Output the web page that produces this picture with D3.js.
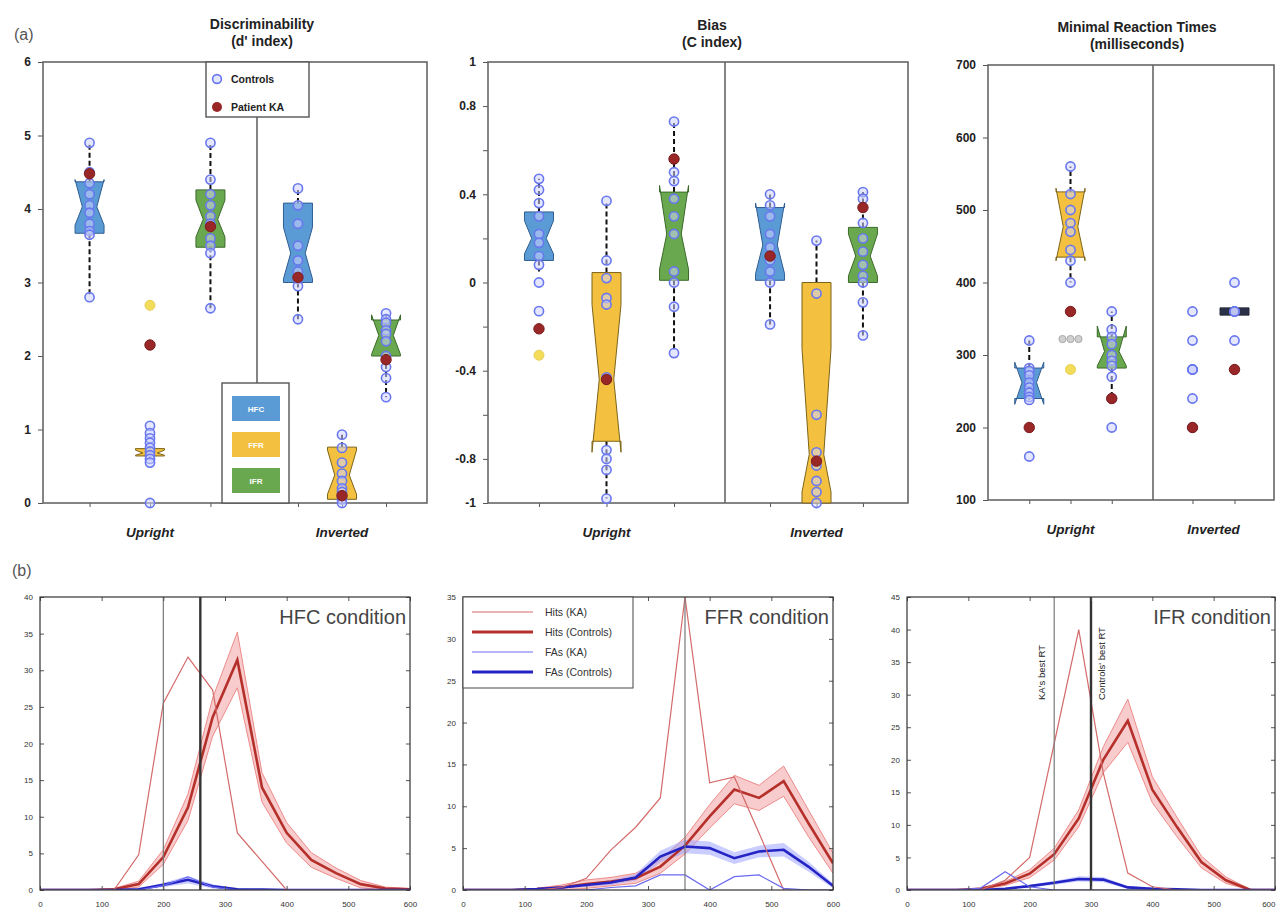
<!DOCTYPE html>
<html><head><meta charset="utf-8">
<script src="https://cdn.jsdelivr.net/npm/d3@7"></script>
<style>body{margin:0;background:#fff}svg{display:block}</style>
</head><body><svg id="c" width="1280" height="908"></svg>
<script>
// ---------- categories ----------
const conditions = ["HFC", "FFR", "IFR"];
const rtInvConditions = ["HFC", "FFR"];
const orientations = ["Upright", "Inverted"];
const legendKeys = ["Controls", "Patient KA"];
const distKeys = ["Hits (KA)", "Hits (Controls)", "FAs (KA)", "FAs (Controls)"];

// ---------- (a) discriminability d' ----------
const dTicks = [0, 1, 2, 3, 4, 5, 6];
const dLabels = [0, 1, 2, 3, 4, 5, 6];
const dControls = [
  [4.9, 4.5, 4.35, 4.2, 4.05, 3.95, 3.8, 3.7, 3.65, 2.8],
  [1.05, 0.95, 0.88, 0.82, 0.75, 0.7, 0.65, 0.6, 0.55, 0.0],
  [4.9, 4.4, 4.2, 4.05, 3.9, 3.8, 3.6, 3.5, 3.4, 2.65],
  [4.28, 4.05, 3.8, 3.5, 3.3, 3.15, 3.05, 2.95, 2.5],
  [0.93, 0.75, 0.55, 0.4, 0.3, 0.2, 0.15, 0.1, 0.05, 0.0],
  [2.58, 2.5, 2.45, 2.35, 2.3, 2.2, 2.0, 1.85, 1.7, 1.44]
];
const dKA = [4.48, 2.15, 3.76, 3.07, 0.1, 1.95];
const dExtra = [null, 2.69, null, null, null, null];
// [whiskerLo, q1, notchLo, median, notchHi, q3, whiskerHi]
const dBoxes = [
  [2.8, 3.67, 3.78, 4.03, 4.4, 4.37, 4.9],
  [0.62, 0.64, 0.65, 0.68, 0.72, 0.74, 0.78],
  [2.65, 3.48, 3.62, 3.86, 4.12, 4.26, 4.9],
  [2.5, 3.0, 3.05, 3.4, 3.75, 4.08, 4.28],
  [0.0, 0.05, 0.12, 0.38, 0.72, 0.76, 0.93],
  [1.44, 2.0, 2.02, 2.28, 2.56, 2.49, 2.58]
];

// ---------- (a) bias C ----------
const cTicks = [1, 0.8, 0.6, 0.4, 0.2, 0, -0.2, -0.4, -0.6, -0.8, -1];
const cLabels = [1, 0.8, 0.4, 0, -0.4, -0.8, -1];
const cControls = [
  [0.47, 0.42, 0.36, 0.3, 0.22, 0.18, 0.12, 0.08, 0.0, -0.13],
  [0.37, 0.1, 0.02, -0.07, -0.1, -0.43, -0.76, -0.8, -0.85, -0.98],
  [0.73, 0.5, 0.46, 0.38, 0.3, 0.22, 0.05, 0.0, -0.11, -0.32],
  [0.4, 0.35, 0.3, 0.22, 0.16, 0.1, 0.05, 0.0, -0.19],
  [0.19, -0.05, -0.6, -0.77, -0.83, -0.9, -0.95, -1.0],
  [0.41, 0.38, 0.27, 0.2, 0.14, 0.08, 0.03, 0.0, -0.09, -0.24]
];
const cKA = [-0.21, -0.44, 0.56, 0.12, -0.81, 0.34];
const cExtra = [-0.33, null, null, null, null, null];
const cBoxes = [
  [0.05, 0.1, 0.13, 0.2, 0.28, 0.32, 0.47],
  [-0.98, -0.72, -0.77, -0.44, -0.1, 0.045, 0.37],
  [-0.31, 0.01, 0.06, 0.22, 0.44, 0.41, 0.73],
  [-0.19, 0.01, 0.04, 0.17, 0.36, 0.34, 0.4],
  [-1.0, -1.0, -0.95, -0.78, -0.3, 0.0, 0.19],
  [-0.24, 0.0, 0.03, 0.12, 0.22, 0.25, 0.41]
];

// ---------- (a) minimal reaction times ----------
const rtTicks = [100, 200, 300, 400, 500, 600, 700];
const rtLabels = [100, 200, 300, 400, 500, 600, 700];
const rtControls = [
  [320, 282, 278, 272, 262, 255, 248, 242, 238, 160],
  [560, 522, 500, 482, 470, 445, 430, 400],
  [360, 335, 325, 315, 300, 292, 285, 270, 240, 200],
  [360, 320, 280, 280, 280, 240, 200],
  [400, 360, 360, 360, 320]
];
const rtKA = [200, 360, 240, 200, 280];
const rtExtra = [null, 280, null, null, null];
const rtGray = [null, 322, null, null, null];
const rtBoxes = [
  [238, 240, 232, 262, 290, 282, 320],
  [400, 435, 430, 477, 530, 525, 560],
  [240, 282, 285, 305, 340, 325, 360],
  null,
  [360, 355, 355, 360, 365, 365, 360]
];

// ---------- (b) RT distributions ----------
const rtBins = [0, 40, 80, 120, 160, 200, 240, 280, 320, 360, 400, 440, 480, 520, 560, 600];
const distXTicks = [0, 100, 200, 300, 400, 500, 600];

const hfcTicks = [0, 5, 10, 15, 20, 25, 30, 35, 40];
const hfcHitsKA  = [0, 0, 0, 0, 4.8, 25.5, 31.8, 27.3, 7.8, 3.9, 0, 0, 0, 0, 0, 0];
const hfcHitsCtl = [0, 0, 0, 0.1, 0.8, 4.5, 11.3, 23.6, 31.4, 14, 7.8, 4.1, 2.3, 0.8, 0.2, 0.1];
const hfcHitsSE  = [0, 0, 0, 0.1, 0.4, 1, 1.8, 2.6, 3.8, 2, 1.4, 1, 0.7, 0.5, 0.2, 0.1];
const hfcFaKA    = [0, 0, 0, 0, 0, 0.6, 1.8, 0.4, 0, 0, 0, 0, 0, 0, 0, 0];
const hfcFaCtl   = [0, 0, 0, 0, 0.1, 0.7, 1.4, 0.5, 0.1, 0.05, 0, 0, 0, 0, 0, 0];
const hfcFaSE    = [0, 0, 0, 0, 0.05, 0.3, 0.5, 0.3, 0.1, 0, 0, 0, 0, 0, 0, 0];

const ffrTicks = [0, 5, 10, 15, 20, 25, 30, 35];
const ffrHitsKA  = [0, 0, 0, 0, 0.3, 1.4, 4.8, 7.5, 11, 35, 12.8, 13.5, 6.8, 0, 0, 0];
const ffrHitsCtl = [0, 0, 0, 0.1, 0.3, 0.7, 1, 1.4, 2.8, 5.3, 8.8, 12, 11, 13, 8, 3.2];
const ffrHitsSE  = [0, 0, 0, 0.1, 0.3, 0.5, 0.5, 0.6, 0.8, 1, 1.4, 1.7, 1.5, 1.8, 1.6, 1.2];
const ffrFaKA    = [0, 0, 0, 0, 0, 0, 0.3, 0.5, 1.8, 1.8, 0, 1.6, 1.8, 0.2, 0, 0];
const ffrFaCtl   = [0, 0, 0, 0.1, 0.3, 0.6, 0.9, 1.5, 4, 5.2, 5, 3.8, 4.6, 4.8, 2.8, 0.5];
const ffrFaSE    = [0, 0, 0, 0.05, 0.1, 0.2, 0.3, 0.4, 0.7, 0.8, 0.8, 0.7, 0.7, 0.8, 0.6, 0.3];

const ifrTicks = [0, 5, 10, 15, 20, 25, 30, 35, 40, 45];
const ifrHitsKA  = [0, 0, 0, 0, 1.5, 5, 22.5, 40, 18, 2.6, 0.5, 0, 0, 0, 0, 0];
const ifrHitsCtl = [0, 0, 0, 0.2, 1, 2.5, 5.5, 11, 20, 26, 15.4, 9.7, 4.3, 1.5, 0, 0];
const ifrHitsSE  = [0, 0, 0, 0.1, 0.3, 0.6, 0.9, 1.3, 2, 3.3, 2, 1.5, 0.9, 0.5, 0.1, 0];
const ifrFaKA    = [0, 0, 0, 0.3, 2.8, 0.5, 0, 0, 0, 0, 0, 0, 0, 0, 0, 0];
const ifrFaCtl   = [0, 0, 0, 0, 0.2, 0.6, 1.1, 1.7, 1.6, 0.4, 0.2, 0.1, 0, 0, 0, 0];
const ifrFaSE    = [0, 0, 0, 0, 0.1, 0.2, 0.3, 0.4, 0.4, 0.2, 0.1, 0.05, 0, 0, 0, 0];

const bestRT_KA  = [200, 360, 240];
const bestRT_Ctl = [260, null, 300];
const bestRTNames = ["KA's best RT", "Controls' best RT"];

// ---------- styles ----------
const FONT = '"Liberation Sans", Arial, Helvetica, sans-serif';
const condFill = {HFC: "#5b9bd5", FFR: "#f3c13f", IFR: "#6aa84f"};
const condStroke = {HFC: "#2f5d92", FFR: "#7d6418", IFR: "#3b6a2a"};
const svg = d3.select("#c");

function styleAxis(g, fs, weight, fill) {
  g.select(".domain").remove();
  g.selectAll("text").attr("font-family", FONT).attr("font-size", fs)
    .attr("font-weight", weight || "normal").attr("fill", fill || "#222");
  g.selectAll("line").attr("stroke", "#555");
}

function drawBoxPanel(p) {
  const y = d3.scaleLinear().domain(p.domain).range([p.bottom, p.top]);
  const xU = d3.scalePoint().domain(conditions).range([p.left, p.sep]).padding(p.padU);
  const xI = d3.scalePoint().domain(p.invCond).range([p.sep, p.right]).padding(p.padI);
  const cols = conditions.map(c => ({c, x: xU(c)})).concat(p.invCond.map(c => ({c, x: xI(c)})));
  const g = svg.append("g");

  const ya = g.append("g").attr("transform", `translate(${p.left},0)`)
    .call(d3.axisLeft(y).tickValues(p.ticks)
      .tickFormat(v => p.labels.includes(v) ? String(v) : "").tickSize(5).tickPadding(7));
  styleAxis(ya, 12, "bold");
  [xU, xI].forEach(s => {
    const xa = g.append("g").attr("transform", `translate(0,${p.bottom})`)
      .call(d3.axisBottom(s).tickSize(4).tickFormat(""));
    styleAxis(xa);
  });
  g.append("rect").attr("x", p.left).attr("y", p.top).attr("width", p.right - p.left)
    .attr("height", p.bottom - p.top).attr("fill", "none").attr("stroke", "#666").attr("stroke-width", 1.6);
  g.append("line").attr("x1", p.sep).attr("x2", p.sep).attr("y1", p.top).attr("y2", p.bottom)
    .attr("stroke", "#666").attr("stroke-width", 1.6);

  orientations.forEach((o, k) => {
    const xs = k ? p.invCond.map(c => xI(c)) : conditions.map(c => xU(c));
    g.append("text").attr("x", d3.mean(xs)).attr("y", p.bottom + 34).attr("text-anchor", "middle")
      .attr("font-family", FONT).attr("font-size", 13.5).attr("font-weight", "bold")
      .attr("font-style", "italic").attr("fill", "#222").text(o);
  });
  p.title.forEach((t, k) => {
    g.append("text").attr("x", p.titleX).attr("y", p.titleY + k * 17).attr("text-anchor", "middle")
      .attr("font-family", FONT).attr("font-size", 14).attr("font-weight", "bold").attr("fill", "#222").text(t);
  });

  const W = 29;
  cols.forEach((col, i) => {
    const b = p.boxes[i];
    if (!b) return;
    const [wl, q1, nl, md, nh, q3, wh] = b;
    const x = col.x;
    g.append("line").attr("x1", x).attr("x2", x).attr("y1", y(q3)).attr("y2", y(wh))
      .attr("stroke", "#111").attr("stroke-width", 2).attr("stroke-dasharray", "5,3");
    g.append("line").attr("x1", x).attr("x2", x).attr("y1", y(q1)).attr("y2", y(wl))
      .attr("stroke", "#111").attr("stroke-width", 2).attr("stroke-dasharray", "5,3");
    const dark = p.darkBox && p.darkBox[i];
    const L = x - W / 2, R = x + W / 2, d = dark ? 0 : W / 4;
    const path = `M${L},${y(q1)}L${L},${y(nl)}L${L + d},${y(md)}L${L},${y(nh)}L${L},${y(q3)}` +
      `L${R},${y(q3)}L${R},${y(nh)}L${R - d},${y(md)}L${R},${y(nl)}L${R},${y(q1)}Z`;
    g.append("path").attr("d", path).attr("fill", dark ? "#2b3148" : condFill[col.c]).attr("fill-rule", "evenodd")
      .attr("stroke", dark ? "#23283a" : condStroke[col.c]).attr("stroke-width", 1);
  });
  cols.forEach((col, i) => {
    g.selectAll(null).data(p.controls[i]).enter().append("circle")
      .attr("cx", col.x).attr("cy", v => y(v)).attr("r", 4.6)
      .attr("fill", "rgba(205,212,255,0.55)").attr("stroke", "#6877ee").attr("stroke-width", 1.6);
  });
  cols.forEach((col, i) => {
    if (p.gray && p.gray[i] != null) {
      [-8, 0, 8].forEach(o => g.append("circle").attr("cx", col.x + o).attr("cy", y(p.gray[i])).attr("r", 3.6)
        .attr("fill", "#d0d0d0").attr("stroke", "#a8a8a8").attr("stroke-width", 1));
    }
    if (p.extra[i] != null) {
      g.append("circle").attr("cx", col.x).attr("cy", y(p.extra[i])).attr("r", 5)
        .attr("fill", "#f2dc5a").attr("stroke", "#e9cf55").attr("stroke-width", 1);
    }
    g.append("circle").attr("cx", col.x).attr("cy", y(p.ka[i])).attr("r", 5.2)
      .attr("fill", "#9a2727").attr("stroke", "#7a1c1c").attr("stroke-width", 1);
  });
  return {g, y, xU, xI};
}

// panel a
drawBoxPanel({left: 43, sep: 257, right: 427, top: 62, bottom: 503, domain: [0, 6],
  padU: 0.77, padI: 0.93, invCond: conditions, ticks: dTicks, labels: dLabels,
  boxes: dBoxes, controls: dControls, ka: dKA, extra: dExtra,
  title: ["Discriminability", "(d' index)"], titleX: 262, titleY: 29});
// panel b
drawBoxPanel({left: 488, sep: 725, right: 908, top: 62, bottom: 503, domain: [-1, 1],
  padU: 0.755, padI: 0.97, invCond: conditions, ticks: cTicks, labels: cLabels,
  boxes: cBoxes, controls: cControls, ka: cKA, extra: cExtra,
  title: ["Bias", "(C index)"], titleX: 712, titleY: 30});
// panel c
drawBoxPanel({left: 988, sep: 1153, right: 1274, top: 65, bottom: 500, domain: [100, 700],
  padU: 1.0, padI: 0.94, invCond: rtInvConditions, ticks: rtTicks, labels: rtLabels,
  boxes: rtBoxes, controls: rtControls, ka: rtKA, extra: rtExtra, gray: rtGray,
  darkBox: [false, false, false, false, true],
  title: ["Minimal Reaction Times", "(milliseconds)"], titleX: 1137, titleY: 32});

// legends in panel a
(function () {
  const g = svg.append("g");
  g.append("rect").attr("x", 206).attr("y", 62).attr("width", 103).attr("height", 55)
    .attr("fill", "#fff").attr("stroke", "#555").attr("stroke-width", 1.4);
  g.append("circle").attr("cx", 217).attr("cy", 79).attr("r", 4.4)
    .attr("fill", "rgba(205,212,255,0.55)").attr("stroke", "#6877ee").attr("stroke-width", 1.6);
  g.append("circle").attr("cx", 217).attr("cy", 107).attr("r", 5).attr("fill", "#9a2727");
  legendKeys.forEach((k, i) => g.append("text").attr("x", 231).attr("y", 83 + i * 28)
    .attr("font-family", FONT).attr("font-size", 10.5).attr("font-weight", "bold").attr("fill", "#222").text(k));

  g.append("rect").attr("x", 222).attr("y", 383).attr("width", 67).attr("height", 120)
    .attr("fill", "#fff").attr("stroke", "#555").attr("stroke-width", 1.4);
  conditions.forEach((c, i) => {
    g.append("rect").attr("x", 232).attr("y", 396 + i * 36).attr("width", 48).attr("height", 25)
      .attr("fill", condFill[c]);
    g.append("text").attr("x", 256).attr("y", 412 + i * 36).attr("text-anchor", "middle")
      .attr("font-family", FONT).attr("font-size", 8).attr("font-weight", "bold").attr("fill", "#fff").text(c);
  });
})();

// panel labels
svg.append("text").attr("x", 14).attr("y", 40).attr("font-family", FONT).attr("font-size", 16)
  .attr("fill", "#555").text("(a)");
svg.append("text").attr("x", 12).attr("y", 576).attr("font-family", FONT).attr("font-size", 16)
  .attr("fill", "#555").text("(b)");

// ---------- distribution panels ----------
function drawDist(p, idx) {
  const x = d3.scaleLinear().domain([0, 600]).range([p.left, p.right]);
  const y = d3.scaleLinear().domain([0, p.ticks[p.ticks.length - 1]]).range([p.bottom, p.top]);
  const g = svg.append("g");
  const cid = "clip" + idx;
  g.append("clipPath").attr("id", cid).append("rect").attr("x", p.left).attr("y", p.top)
    .attr("width", p.right - p.left).attr("height", p.bottom - p.top);
  const pg = g.append("g").attr("clip-path", `url(#${cid})`);
  const line = d3.line().x((d, i) => x(rtBins[i])).y(d => y(d));
  const area = (m, s) => d3.area().x((d, i) => x(rtBins[i]))
    .y0((d, i) => y(Math.max(0, m[i] - s[i]))).y1((d, i) => y(m[i] + s[i]))(m);
  const edge = (m, s, sign) => line(m.map((v, i) => Math.max(0, v + sign * s[i])));

  pg.append("path").attr("d", area(p.hitsCtl, p.hitsSE)).attr("fill", "#f3a3a3").attr("fill-opacity", 0.55);
  [1, -1].forEach(sg => pg.append("path").attr("d", edge(p.hitsCtl, p.hitsSE, sg))
    .attr("fill", "none").attr("stroke", "#ec8080").attr("stroke-width", 0.9));
  pg.append("path").attr("d", area(p.faCtl, p.faSE)).attr("fill", "#9ea4ff").attr("fill-opacity", 0.55);
  pg.append("path").attr("d", line(p.hitsCtl)).attr("fill", "none").attr("stroke", "#b5302b").attr("stroke-width", 2.6);
  pg.append("path").attr("d", line(p.faCtl)).attr("fill", "none").attr("stroke", "#2424c4").attr("stroke-width", 2.6);
  pg.append("path").attr("d", line(p.hitsKA)).attr("fill", "none").attr("stroke", "#d46a6a").attr("stroke-width", 1.2);
  pg.append("path").attr("d", line(p.faKA)).attr("fill", "none").attr("stroke", "#6a6af0").attr("stroke-width", 1.2);

  if (bestRT_KA[idx] != null) pg.append("line").attr("x1", x(bestRT_KA[idx])).attr("x2", x(bestRT_KA[idx]))
    .attr("y1", p.top).attr("y2", p.bottom).attr("stroke", "#777").attr("stroke-width", 1.2);
  if (bestRT_Ctl[idx] != null) pg.append("line").attr("x1", x(bestRT_Ctl[idx])).attr("x2", x(bestRT_Ctl[idx]))
    .attr("y1", p.top).attr("y2", p.bottom).attr("stroke", "#333").attr("stroke-width", 2.4);

  const al = g.append("g").attr("transform", `translate(${p.left},0)`)
    .call(d3.axisLeft(y).tickValues(p.ticks).tickSize(-4).tickPadding(7));
  styleAxis(al, 8, "normal", "#333");
  const ar = g.append("g").attr("transform", `translate(${p.right},0)`)
    .call(d3.axisRight(y).tickValues(p.ticks).tickSize(-4).tickFormat(""));
  styleAxis(ar);
  const ab = g.append("g").attr("transform", `translate(0,${p.bottom})`)
    .call(d3.axisBottom(x).tickValues(distXTicks).tickSize(-4).tickPadding(11));
  styleAxis(ab, 8, "normal", "#333");
  // keep the last label inside the page
  ab.selectAll(".tick text").filter(function () { return this.getBoundingClientRect().right > 1278; })
    .attr("text-anchor", "end");
  const at = g.append("g").attr("transform", `translate(0,${p.top})`)
    .call(d3.axisTop(x).tickValues(distXTicks).tickSize(-4).tickFormat(""));
  styleAxis(at);
  g.append("rect").attr("x", p.left).attr("y", p.top).attr("width", p.right - p.left)
    .attr("height", p.bottom - p.top).attr("fill", "none").attr("stroke", "#333").attr("stroke-width", 1.2);

  g.append("text").attr("x", p.right - 4).attr("y", p.top + 27).attr("text-anchor", "end")
    .attr("font-family", FONT).attr("font-size", 20).attr("fill", "#444").text(p.name);
  return {x, y, g};
}

drawDist({left: 40, right: 410, top: 597, bottom: 890, ticks: hfcTicks, name: "HFC condition",
  hitsKA: hfcHitsKA, hitsCtl: hfcHitsCtl, hitsSE: hfcHitsSE, faKA: hfcFaKA, faCtl: hfcFaCtl, faSE: hfcFaSE}, 0);
const ffr = drawDist({left: 463, right: 833, top: 597, bottom: 890, ticks: ffrTicks, name: "FFR condition",
  hitsKA: ffrHitsKA, hitsCtl: ffrHitsCtl, hitsSE: ffrHitsSE, faKA: ffrFaKA, faCtl: ffrFaCtl, faSE: ffrFaSE}, 1);
const ifr = drawDist({left: 907, right: 1275, top: 597, bottom: 890, ticks: ifrTicks, name: "IFR condition",
  hitsKA: ifrHitsKA, hitsCtl: ifrHitsCtl, hitsSE: ifrHitsSE, faKA: ifrFaKA, faCtl: ifrFaCtl, faSE: ifrFaSE}, 2);

// rotated best RT labels in IFR panel
[[bestRT_KA[2], -9], [bestRT_Ctl[2], 14]].forEach(([v, off], i) => {
  const xx = ifr.x(v) + off;
  ifr.g.append("text").attr("transform", `translate(${xx},700) rotate(-90)`)
    .attr("font-family", FONT).attr("font-size", 9.5).attr("fill", "#222").text(bestRTNames[i]);
});

// legend in FFR panel
(function () {
  const g = ffr.g;
  g.append("rect").attr("x", 463).attr("y", 597).attr("width", 170).attr("height", 91)
    .attr("fill", "#fff").attr("stroke", "#444").attr("stroke-width", 1);
  const st = [["#d46a6a", 1.2], ["#b5302b", 2.8], ["#6a6af0", 1.2], ["#2424c4", 2.8]];
  const ys = [612, 632, 652, 672];
  distKeys.forEach((k, i) => {
    g.append("line").attr("x1", 472).attr("x2", 533).attr("y1", ys[i]).attr("y2", ys[i])
      .attr("stroke", st[i][0]).attr("stroke-width", st[i][1]);
    g.append("text").attr("x", 545).attr("y", ys[i] + 4).attr("font-family", FONT)
      .attr("font-size", 10.5).attr("fill", "#333").text(k);
  });
})();
</script></body></html>
